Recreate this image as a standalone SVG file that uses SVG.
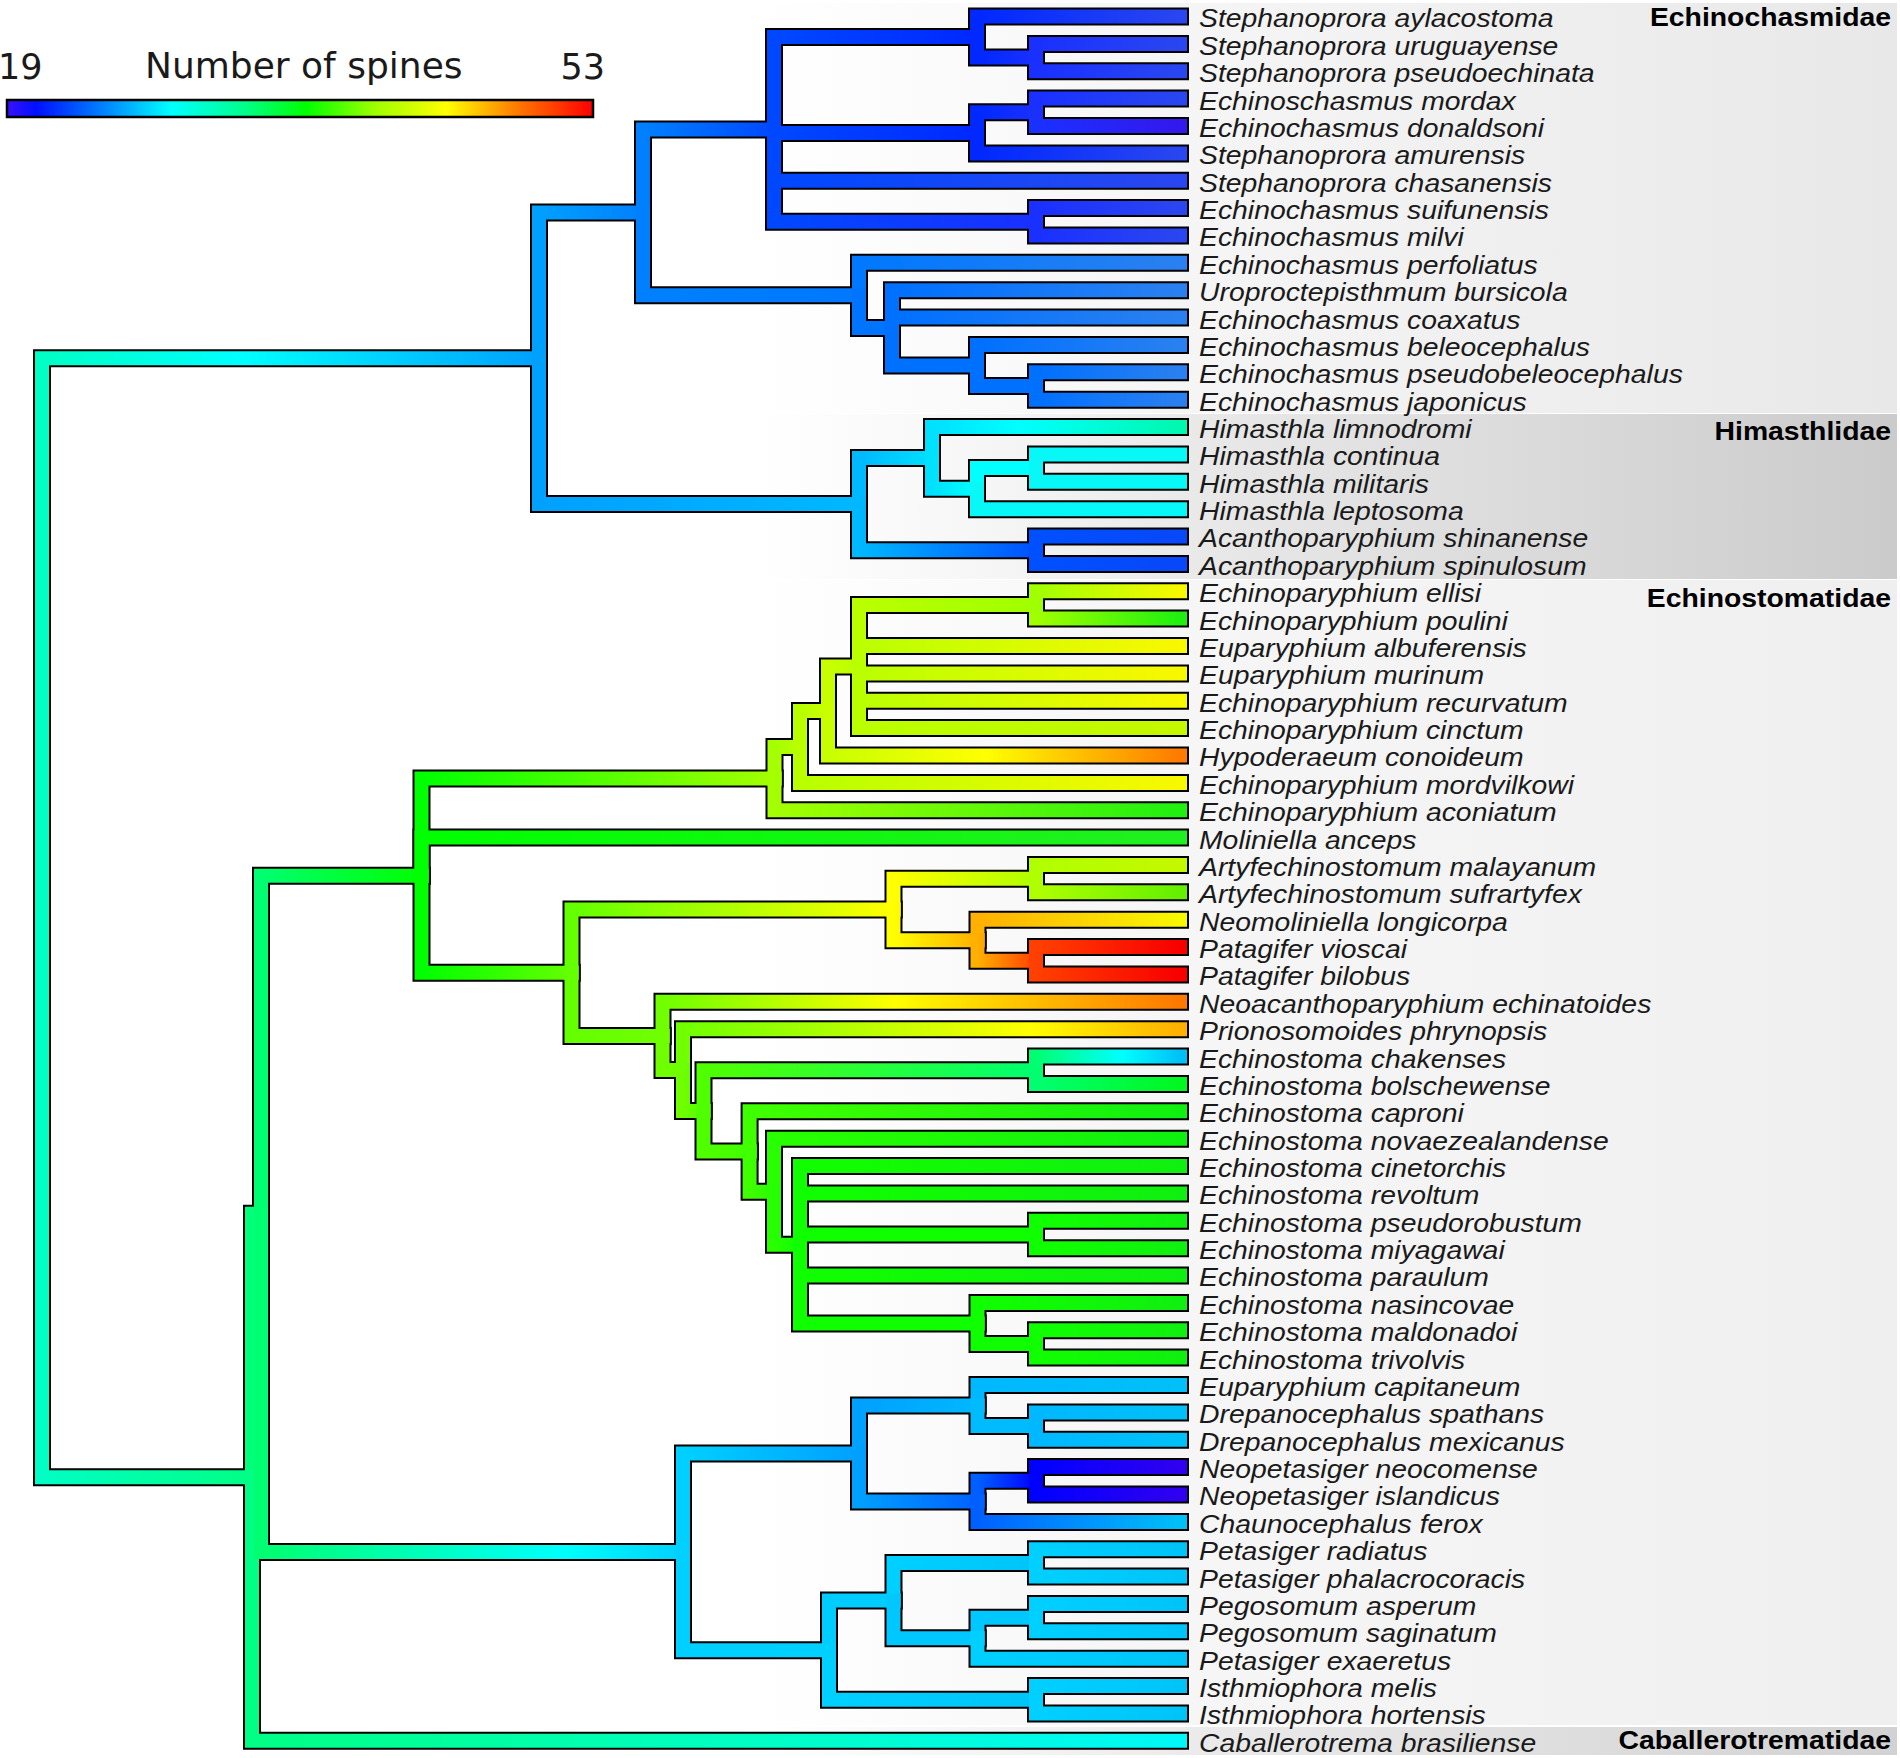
<svg xmlns="http://www.w3.org/2000/svg" width="1900" height="1758" viewBox="0 0 1900 1758">
<style>
.sp{font-family:"Liberation Sans",Arial,sans-serif;font-style:italic;font-size:26.5px;fill:#1a1a1a}
.fam{font-family:"Liberation Sans",Arial,sans-serif;font-weight:bold;font-size:26.5px;fill:#000;text-anchor:end}
.lg{font-family:"DejaVu Sans",Verdana,sans-serif;font-size:35px;fill:#1a1a1a}
</style>
<defs>
<linearGradient id="bg1" gradientUnits="userSpaceOnUse" x1="760" y1="0" x2="1897" y2="0"><stop offset="0" stop-color="#fff"/><stop offset=".35" stop-color="#f6f6f6"/><stop offset="1" stop-color="#e8e8e8"/></linearGradient>
<linearGradient id="bg2" gradientUnits="userSpaceOnUse" x1="760" y1="0" x2="1897" y2="0"><stop offset="0" stop-color="#fff"/><stop offset=".2" stop-color="#f6f6f6"/><stop offset=".4" stop-color="#e8e8e8"/><stop offset="1" stop-color="#cbcbcb"/></linearGradient>
<linearGradient id="bg3" gradientUnits="userSpaceOnUse" x1="760" y1="0" x2="1897" y2="0"><stop offset="0" stop-color="#fff"/><stop offset=".3" stop-color="#f7f7f7"/><stop offset="1" stop-color="#efefef"/></linearGradient>
<linearGradient id="bg4" gradientUnits="userSpaceOnUse" x1="760" y1="0" x2="1897" y2="0"><stop offset="0" stop-color="#fff"/><stop offset=".4" stop-color="#eaeaea"/><stop offset="1" stop-color="#d2d2d2"/></linearGradient>
<linearGradient id="leg"><stop offset="0" stop-color="#3a10ff"/><stop offset=".05" stop-color="#0010ff"/><stop offset=".17" stop-color="#0088ff"/><stop offset=".28" stop-color="#00ffff"/><stop offset=".4" stop-color="#00ff90"/><stop offset=".51" stop-color="#00ff00"/><stop offset=".63" stop-color="#a0ff00"/><stop offset=".75" stop-color="#ffff00"/><stop offset=".88" stop-color="#ff7000"/><stop offset="1" stop-color="#ff0000"/></linearGradient>
<linearGradient id="gRU"><stop offset="0" stop-color="#00ffc4"/><stop offset=".4" stop-color="#00ffff"/><stop offset="1" stop-color="#00a0ff"/></linearGradient>
<linearGradient id="gRL"><stop offset="0" stop-color="#00ffc4"/><stop offset="1" stop-color="#00ff84"/></linearGradient>
<linearGradient id="gUA"><stop offset="0" stop-color="#00a0ff"/><stop offset="1" stop-color="#0080ff"/></linearGradient>
<linearGradient id="gUH"><stop offset="0" stop-color="#00a0ff"/><stop offset="1" stop-color="#00b8ff"/></linearGradient>
<linearGradient id="gAC"><stop offset="0" stop-color="#0080ff"/><stop offset="1" stop-color="#0048ff"/></linearGradient>
<linearGradient id="gAG"><stop offset="0" stop-color="#0080ff"/><stop offset="1" stop-color="#0078ff"/></linearGradient>
<linearGradient id="gCB"><stop offset="0" stop-color="#0048ff"/><stop offset="1" stop-color="#0028ff"/></linearGradient>
<linearGradient id="gCT"><stop offset="0" stop-color="#0048ff"/><stop offset="1" stop-color="#2a46f0"/></linearGradient>
<linearGradient id="gCC"><stop offset="0" stop-color="#0048ff"/><stop offset="1" stop-color="#1a30ff"/></linearGradient>
<linearGradient id="gBT"><stop offset="0" stop-color="#0028ff"/><stop offset="1" stop-color="#2a46f0"/></linearGradient>
<linearGradient id="gBC"><stop offset="0" stop-color="#0028ff"/><stop offset="1" stop-color="#1a30ff"/></linearGradient>
<linearGradient id="gKT"><stop offset="0" stop-color="#1a30ff"/><stop offset="1" stop-color="#2a46f0"/></linearGradient>
<linearGradient id="gT5"><stop offset="0" stop-color="#1a30ff"/><stop offset="1" stop-color="#3418ee"/></linearGradient>
<linearGradient id="gGT"><stop offset="0" stop-color="#0078ff"/><stop offset="1" stop-color="#2a80f0"/></linearGradient>
<linearGradient id="gFT"><stop offset="0" stop-color="#0070ff"/><stop offset="1" stop-color="#2a80f0"/></linearGradient>
<linearGradient id="gHH"><stop offset="0" stop-color="#00b8ff"/><stop offset="1" stop-color="#00e0ff"/></linearGradient>
<linearGradient id="gHC"><stop offset="0" stop-color="#00b8ff"/><stop offset="1" stop-color="#0050ff"/></linearGradient>
<linearGradient id="gH16"><stop offset="0" stop-color="#00e0ff"/><stop offset=".35" stop-color="#00ffff"/><stop offset="1" stop-color="#00f8b0"/></linearGradient>
<linearGradient id="gH23"><stop offset="0" stop-color="#00e0ff"/><stop offset="1" stop-color="#00ffff"/></linearGradient>
<linearGradient id="gAT"><stop offset="0" stop-color="#0050ff"/><stop offset="1" stop-color="#0848f8"/></linearGradient>
<linearGradient id="gL64"><stop offset="0" stop-color="#00ff84"/><stop offset=".5" stop-color="#00ffc0"/><stop offset="1" stop-color="#00f8f8"/></linearGradient>
<linearGradient id="gMN"><stop offset="0" stop-color="#00ff70"/><stop offset="1" stop-color="#00ff00"/></linearGradient>
<linearGradient id="gMP"><stop offset="0" stop-color="#00ff70"/><stop offset=".72" stop-color="#00ffff"/><stop offset="1" stop-color="#00d0ff"/></linearGradient>
<linearGradient id="gNQ"><stop offset="0" stop-color="#00ff00"/><stop offset="1" stop-color="#a4ff00"/></linearGradient>
<linearGradient id="gN31"><stop offset="0" stop-color="#00ff00"/><stop offset="1" stop-color="#20f020"/></linearGradient>
<linearGradient id="gNR"><stop offset="0" stop-color="#00ff00"/><stop offset="1" stop-color="#64ff00"/></linearGradient>
<linearGradient id="gQ43"><stop offset="0" stop-color="#a4ff00"/><stop offset="1" stop-color="#b8ff00"/></linearGradient>
<linearGradient id="gQ30"><stop offset="0" stop-color="#a4ff00"/><stop offset="1" stop-color="#20f010"/></linearGradient>
<linearGradient id="gQ32"><stop offset="0" stop-color="#b8ff00"/><stop offset="1" stop-color="#c8ff00"/></linearGradient>
<linearGradient id="gQ29"><stop offset="0" stop-color="#b8ff00"/><stop offset="1" stop-color="#f8f800"/></linearGradient>
<linearGradient id="gQ21"><stop offset="0" stop-color="#c8ff00"/><stop offset="1" stop-color="#baff00"/></linearGradient>
<linearGradient id="gQ28"><stop offset="0" stop-color="#c8ff00"/><stop offset=".45" stop-color="#ffff00"/><stop offset="1" stop-color="#ff7a00"/></linearGradient>
<linearGradient id="gQ1C"><stop offset="0" stop-color="#baff00"/><stop offset="1" stop-color="#a0ff00"/></linearGradient>
<linearGradient id="gQ1Y"><stop offset="0" stop-color="#baff00"/><stop offset="1" stop-color="#f8f800"/></linearGradient>
<linearGradient id="gQ27"><stop offset="0" stop-color="#baff00"/><stop offset="1" stop-color="#c4f800"/></linearGradient>
<linearGradient id="gC22"><stop offset="0" stop-color="#a0ff00"/><stop offset="1" stop-color="#f8f800"/></linearGradient>
<linearGradient id="gC23"><stop offset="0" stop-color="#a0ff00"/><stop offset="1" stop-color="#20f010"/></linearGradient>
<linearGradient id="gRS"><stop offset="0" stop-color="#64ff00"/><stop offset="1" stop-color="#ffff00"/></linearGradient>
<linearGradient id="gRT"><stop offset="0" stop-color="#64ff00"/><stop offset="1" stop-color="#70ff00"/></linearGradient>
<linearGradient id="gSC"><stop offset="0" stop-color="#ffff00"/><stop offset="1" stop-color="#b0ff00"/></linearGradient>
<linearGradient id="gSS"><stop offset="0" stop-color="#ffff00"/><stop offset="1" stop-color="#ffb000"/></linearGradient>
<linearGradient id="gC32"><stop offset="0" stop-color="#b0ff00"/><stop offset="1" stop-color="#c4f800"/></linearGradient>
<linearGradient id="gC33"><stop offset="0" stop-color="#b0ff00"/><stop offset="1" stop-color="#64f000"/></linearGradient>
<linearGradient id="gS34"><stop offset="0" stop-color="#ffb000"/><stop offset="1" stop-color="#f8f800"/></linearGradient>
<linearGradient id="gS2C"><stop offset="0" stop-color="#ffb000"/><stop offset="1" stop-color="#ff4000"/></linearGradient>
<linearGradient id="gC35"><stop offset="0" stop-color="#ff4000"/><stop offset="1" stop-color="#f80000"/></linearGradient>
<linearGradient id="gT37"><stop offset="0" stop-color="#70ff00"/><stop offset=".45" stop-color="#ffff00"/><stop offset="1" stop-color="#ff7800"/></linearGradient>
<linearGradient id="gT38"><stop offset="0" stop-color="#70ff00"/><stop offset=".7" stop-color="#ffff00"/><stop offset="1" stop-color="#ffb000"/></linearGradient>
<linearGradient id="gT23"><stop offset="0" stop-color="#70ff00"/><stop offset="1" stop-color="#50ff00"/></linearGradient>
<linearGradient id="gT3C"><stop offset="0" stop-color="#50ff00"/><stop offset="1" stop-color="#00ff70"/></linearGradient>
<linearGradient id="gT34"><stop offset="0" stop-color="#50ff00"/><stop offset="1" stop-color="#40ff00"/></linearGradient>
<linearGradient id="gC39"><stop offset="0" stop-color="#00ff70"/><stop offset=".6" stop-color="#00ffff"/><stop offset="1" stop-color="#00c0f8"/></linearGradient>
<linearGradient id="gC40"><stop offset="0" stop-color="#00ff70"/><stop offset="1" stop-color="#00f820"/></linearGradient>
<linearGradient id="gT41"><stop offset="0" stop-color="#40ff00"/><stop offset="1" stop-color="#10f010"/></linearGradient>
<linearGradient id="gT45"><stop offset="0" stop-color="#40ff00"/><stop offset="1" stop-color="#28ff00"/></linearGradient>
<linearGradient id="gT42"><stop offset="0" stop-color="#28ff00"/><stop offset="1" stop-color="#10f010"/></linearGradient>
<linearGradient id="gT56"><stop offset="0" stop-color="#28ff00"/><stop offset="1" stop-color="#10ff00"/></linearGradient>
<linearGradient id="gGr"><stop offset="0" stop-color="#10ff00"/><stop offset="1" stop-color="#10f010"/></linearGradient>
<linearGradient id="gPP1"><stop offset="0" stop-color="#00d0ff"/><stop offset="1" stop-color="#00a0ff"/></linearGradient>
<linearGradient id="gP1a"><stop offset="0" stop-color="#00a0ff"/><stop offset="1" stop-color="#00b8ff"/></linearGradient>
<linearGradient id="gP1b"><stop offset="0" stop-color="#00a0ff"/><stop offset="1" stop-color="#0060ff"/></linearGradient>
<linearGradient id="gLB"><stop offset="0" stop-color="#00b8ff"/><stop offset="1" stop-color="#00c0f8"/></linearGradient>
<linearGradient id="gP1bC"><stop offset="0" stop-color="#0060ff"/><stop offset="1" stop-color="#0000ff"/></linearGradient>
<linearGradient id="gP56"><stop offset="0" stop-color="#0060ff"/><stop offset="1" stop-color="#00c0f8"/></linearGradient>
<linearGradient id="gC54"><stop offset="0" stop-color="#0000ff"/><stop offset="1" stop-color="#3000f0"/></linearGradient>
<linearGradient id="gP2"><stop offset="0" stop-color="#00d0ff"/><stop offset="1" stop-color="#00c4f8"/></linearGradient>
</defs>

<g id="family-bands">
<rect x="760" y="3" width="1137" height="410" fill="url(#bg1)"/>
<rect x="760" y="414" width="1137" height="165" fill="url(#bg2)"/>
<rect x="760" y="580" width="1137" height="1145" fill="url(#bg3)"/>
<rect x="760" y="1727" width="1137" height="28" fill="url(#bg4)"/>
</g>

<g id="legend">
<rect x="7" y="100" width="586" height="17" fill="url(#leg)" stroke="#000" stroke-width="2.5"/>
<text class="lg" x="-2" y="79">19</text>
<text class="lg" x="145" y="78" style="font-size:36px">Number of spines</text>
<text class="lg" x="605" y="79" text-anchor="end">53</text>
</g>

<g id="connectors" fill="none" stroke-linecap="square" stroke-linejoin="miter">
<g id="outline" stroke="#000" stroke-width="18">
<path id="r_u0" d="M42 917.8V358.3H539"/>
<path id="r_l" d="M42 917.8V1477.3H252"/>
<path id="u0_a" d="M539 358.3V212.4H643"/>
<path id="u0_h1" d="M539 358.3V504.1H859"/>
<path id="a_c" d="M643 212.4V129.4H774"/>
<path id="a_g" d="M643 212.4V295.3H859"/>
<path id="c_b" d="M774 129.4V37H977"/>
<path id="c_d" d="M774 129.4V132.9H977"/>
<path id="c_t7" d="M774 129.4V180.7H1180"/>
<path id="c_c89" d="M774 129.4V221.8H1036"/>
<path id="b_t1" d="M977 37V16.5H1180"/>
<path id="b_c23" d="M977 37V57.6H1036"/>
<path id="c23_t2" d="M1036 57.6V43.9H1180"/>
<path id="c23_t3" d="M1036 57.6V71.2H1180"/>
<path id="d_c45" d="M977 132.9V112.3H1036"/>
<path id="d_t6" d="M977 132.9V153.4H1180"/>
<path id="c45_t4" d="M1036 112.3V98.6H1180"/>
<path id="c45_t5" d="M1036 112.3V126H1180"/>
<path id="c89_t8" d="M1036 221.8V208.1H1180"/>
<path id="c89_t9" d="M1036 221.8V235.5H1180"/>
<path id="g_t10" d="M859 295.3V262.8H1180"/>
<path id="g_f" d="M859 295.3V327.9H892"/>
<path id="f_t11" d="M892 327.9V290.2H1180"/>
<path id="f_t12" d="M892 327.9V317.6H1180"/>
<path id="f_e" d="M892 327.9V365.5H977"/>
<path id="e_t13" d="M977 365.5V344.9H1180"/>
<path id="e_c1415" d="M977 365.5V386H1036"/>
<path id="c1415_t14" d="M1036 386V372.3H1180"/>
<path id="c1415_t15" d="M1036 386V399.7H1180"/>
<path id="h1_h2" d="M859 504.1V457.9H932"/>
<path id="h1_c2021" d="M859 504.1V550.2H1036"/>
<path id="h2_t16" d="M932 457.9V427.1H1180"/>
<path id="h2_h3" d="M932 457.9V488.7H977"/>
<path id="h3_c1718" d="M977 488.7V468.1H1036"/>
<path id="h3_t19" d="M977 488.7V509.2H1180"/>
<path id="c1718_t17" d="M1036 468.1V454.4H1180"/>
<path id="c1718_t18" d="M1036 468.1V481.8H1180"/>
<path id="c2021_t20" d="M1036 550.2V536.5H1180"/>
<path id="c2021_t21" d="M1036 550.2V563.9H1180"/>
<path id="l_m" d="M252 1477.3V1213.8H261"/>
<path id="l_t64" d="M252 1477.3V1740.8H1180"/>
<path id="m_n" d="M261 1213.8V875.7H421.5"/>
<path id="m_p" d="M261 1213.8V1551.9H683"/>
<path id="n_q4" d="M421.5 875.7V778.6H774.5"/>
<path id="n_t31" d="M421.5 875.7V837.6H1180"/>
<path id="n_r" d="M421.5 875.7V972.8H571.5"/>
<path id="q4_q3" d="M774.5 778.6V747H800"/>
<path id="q4_t30" d="M774.5 778.6V810.2H1180"/>
<path id="q3_q2" d="M800 747V711.1H828"/>
<path id="q3_t29" d="M800 747V782.9H1180"/>
<path id="q2_q1" d="M828 711.1V666.6H859"/>
<path id="q2_t28" d="M828 711.1V755.5H1180"/>
<path id="q1_c2223" d="M859 666.6V605H1036"/>
<path id="q1_t24" d="M859 666.6V646H1180"/>
<path id="q1_t25" d="M859 666.6V673.4H1180"/>
<path id="q1_t26" d="M859 666.6V700.8H1180"/>
<path id="q1_t27" d="M859 666.6V728.1H1180"/>
<path id="c2223_t22" d="M1036 605V591.3H1180"/>
<path id="c2223_t23" d="M1036 605V618.6H1180"/>
<path id="r_s" d="M571.5 972.8V909.5H893.5"/>
<path id="r_t" d="M571.5 972.8V1036H662.5"/>
<path id="s_c3233" d="M893.5 909.5V878.7H1036"/>
<path id="s_s2" d="M893.5 909.5V940.3H977.5"/>
<path id="c3233_t32" d="M1036 878.7V865H1180"/>
<path id="c3233_t33" d="M1036 878.7V892.3H1180"/>
<path id="s2_t34" d="M977.5 940.3V919.7H1180"/>
<path id="s2_c3536" d="M977.5 940.3V960.8H1036"/>
<path id="c3536_t35" d="M1036 960.8V947.1H1180"/>
<path id="c3536_t36" d="M1036 960.8V974.5H1180"/>
<path id="t_t37" d="M662.5 1036V1001.8H1180"/>
<path id="t_t2" d="M662.5 1036V1070.1H683"/>
<path id="t2_t38" d="M683 1070.1V1029.2H1180"/>
<path id="t2_t3" d="M683 1070.1V1111H703.5"/>
<path id="t3_c3940" d="M703.5 1111V1070.3H1036"/>
<path id="t3_t4" d="M703.5 1111V1151.6H749.6"/>
<path id="c3940_t39" d="M1036 1070.3V1056.6H1180"/>
<path id="c3940_t40" d="M1036 1070.3V1083.9H1180"/>
<path id="t4_t41" d="M749.6 1151.6V1111.3H1180"/>
<path id="t4_t5" d="M749.6 1151.6V1191.8H774"/>
<path id="t5_t42" d="M774 1191.8V1138.7H1180"/>
<path id="t5_t6" d="M774 1191.8V1244.8H800"/>
<path id="t6_t43" d="M800 1244.8V1166H1180"/>
<path id="t6_t44" d="M800 1244.8V1193.4H1180"/>
<path id="t6_c4546" d="M800 1244.8V1234.5H1036"/>
<path id="t6_t47" d="M800 1244.8V1275.5H1180"/>
<path id="t6_u" d="M800 1244.8V1323.5H977.5"/>
<path id="c4546_t45" d="M1036 1234.5V1220.8H1180"/>
<path id="c4546_t46" d="M1036 1234.5V1248.2H1180"/>
<path id="u_t48" d="M977.5 1323.5V1302.9H1180"/>
<path id="u_c4950" d="M977.5 1323.5V1344H1036"/>
<path id="c4950_t49" d="M1036 1344V1330.3H1180"/>
<path id="c4950_t50" d="M1036 1344V1357.6H1180"/>
<path id="p_p1" d="M683 1551.9V1453.5H859"/>
<path id="p_p2" d="M683 1551.9V1650.2H829"/>
<path id="p1_p1a" d="M859 1453.5V1405.6H977.5"/>
<path id="p1_p1b" d="M859 1453.5V1501.4H977.5"/>
<path id="p1a_t51" d="M977.5 1405.6V1385H1180"/>
<path id="p1a_c5253" d="M977.5 1405.6V1426.1H1036"/>
<path id="c5253_t52" d="M1036 1426.1V1412.4H1180"/>
<path id="c5253_t53" d="M1036 1426.1V1439.7H1180"/>
<path id="p1b_c5455" d="M977.5 1501.4V1480.8H1036"/>
<path id="p1b_t56" d="M977.5 1501.4V1521.9H1180"/>
<path id="c5455_t54" d="M1036 1480.8V1467.1H1180"/>
<path id="c5455_t55" d="M1036 1480.8V1494.5H1180"/>
<path id="p2_p2a" d="M829 1650.2V1600.6H893.5"/>
<path id="p2_c6263" d="M829 1650.2V1699.8H1036"/>
<path id="p2a_c5758" d="M893.5 1600.6V1562.9H1036"/>
<path id="p2a_p2b" d="M893.5 1600.6V1638.2H977.5"/>
<path id="c5758_t57" d="M1036 1562.9V1549.2H1180"/>
<path id="c5758_t58" d="M1036 1562.9V1576.6H1180"/>
<path id="p2b_c5960" d="M977.5 1638.2V1617.7H1036"/>
<path id="p2b_t61" d="M977.5 1638.2V1658.7H1180"/>
<path id="c5960_t59" d="M1036 1617.7V1604H1180"/>
<path id="c5960_t60" d="M1036 1617.7V1631.3H1180"/>
<path id="c6263_t62" d="M1036 1699.8V1686.1H1180"/>
<path id="c6263_t63" d="M1036 1699.8V1713.4H1180"/>
</g>
<g id="colour" stroke-width="14">
<use href="#r_u0" stroke="url(#gRU)"/>
<use href="#r_l" stroke="url(#gRL)"/>
<use href="#u0_a" stroke="url(#gUA)"/>
<use href="#u0_h1" stroke="url(#gUH)"/>
<use href="#a_c" stroke="url(#gAC)"/>
<use href="#a_g" stroke="url(#gAG)"/>
<use href="#c_b" stroke="url(#gCB)"/>
<use href="#c_d" stroke="url(#gCB)"/>
<use href="#c_t7" stroke="url(#gCT)"/>
<use href="#c_c89" stroke="url(#gCC)"/>
<use href="#b_t1" stroke="url(#gBT)"/>
<use href="#b_c23" stroke="url(#gBC)"/>
<use href="#c23_t2" stroke="url(#gKT)"/>
<use href="#c23_t3" stroke="url(#gKT)"/>
<use href="#d_c45" stroke="url(#gBC)"/>
<use href="#d_t6" stroke="url(#gBT)"/>
<use href="#c45_t4" stroke="url(#gKT)"/>
<use href="#c45_t5" stroke="url(#gT5)"/>
<use href="#c89_t8" stroke="url(#gKT)"/>
<use href="#c89_t9" stroke="url(#gKT)"/>
<use href="#g_t10" stroke="url(#gGT)"/>
<use href="#g_f" stroke="#0074ff"/>
<use href="#f_t11" stroke="url(#gFT)"/>
<use href="#f_t12" stroke="url(#gFT)"/>
<use href="#f_e" stroke="#0070ff"/>
<use href="#e_t13" stroke="url(#gFT)"/>
<use href="#e_c1415" stroke="#0070ff"/>
<use href="#c1415_t14" stroke="url(#gFT)"/>
<use href="#c1415_t15" stroke="url(#gFT)"/>
<use href="#h1_h2" stroke="url(#gHH)"/>
<use href="#h1_c2021" stroke="url(#gHC)"/>
<use href="#h2_t16" stroke="url(#gH16)"/>
<use href="#h2_h3" stroke="url(#gH23)"/>
<use href="#h3_c1718" stroke="#00ffff"/>
<use href="#h3_t19" stroke="#08f8f8"/>
<use href="#c1718_t17" stroke="#08f8f8"/>
<use href="#c1718_t18" stroke="#08f8f8"/>
<use href="#c2021_t20" stroke="url(#gAT)"/>
<use href="#c2021_t21" stroke="url(#gAT)"/>
<use href="#l_m" stroke="#00ff7a"/>
<use href="#l_t64" stroke="url(#gL64)"/>
<use href="#m_n" stroke="url(#gMN)"/>
<use href="#m_p" stroke="url(#gMP)"/>
<use href="#n_q4" stroke="url(#gNQ)"/>
<use href="#n_t31" stroke="url(#gN31)"/>
<use href="#n_r" stroke="url(#gNR)"/>
<use href="#q4_q3" stroke="url(#gQ43)"/>
<use href="#q4_t30" stroke="url(#gQ30)"/>
<use href="#q3_q2" stroke="url(#gQ32)"/>
<use href="#q3_t29" stroke="url(#gQ29)"/>
<use href="#q2_q1" stroke="url(#gQ21)"/>
<use href="#q2_t28" stroke="url(#gQ28)"/>
<use href="#q1_c2223" stroke="url(#gQ1C)"/>
<use href="#q1_t24" stroke="url(#gQ1Y)"/>
<use href="#q1_t25" stroke="url(#gQ1Y)"/>
<use href="#q1_t26" stroke="url(#gQ1Y)"/>
<use href="#q1_t27" stroke="url(#gQ27)"/>
<use href="#c2223_t22" stroke="url(#gC22)"/>
<use href="#c2223_t23" stroke="url(#gC23)"/>
<use href="#r_s" stroke="url(#gRS)"/>
<use href="#r_t" stroke="url(#gRT)"/>
<use href="#s_c3233" stroke="url(#gSC)"/>
<use href="#s_s2" stroke="url(#gSS)"/>
<use href="#c3233_t32" stroke="url(#gC32)"/>
<use href="#c3233_t33" stroke="url(#gC33)"/>
<use href="#s2_t34" stroke="url(#gS34)"/>
<use href="#s2_c3536" stroke="url(#gS2C)"/>
<use href="#c3536_t35" stroke="url(#gC35)"/>
<use href="#c3536_t36" stroke="url(#gC35)"/>
<use href="#t_t37" stroke="url(#gT37)"/>
<use href="#t_t2" stroke="#70ff00"/>
<use href="#t2_t38" stroke="url(#gT38)"/>
<use href="#t2_t3" stroke="url(#gT23)"/>
<use href="#t3_c3940" stroke="url(#gT3C)"/>
<use href="#t3_t4" stroke="url(#gT34)"/>
<use href="#c3940_t39" stroke="url(#gC39)"/>
<use href="#c3940_t40" stroke="url(#gC40)"/>
<use href="#t4_t41" stroke="url(#gT41)"/>
<use href="#t4_t5" stroke="url(#gT45)"/>
<use href="#t5_t42" stroke="url(#gT42)"/>
<use href="#t5_t6" stroke="url(#gT56)"/>
<use href="#t6_t43" stroke="url(#gGr)"/>
<use href="#t6_t44" stroke="url(#gGr)"/>
<use href="#t6_c4546" stroke="#10ff00"/>
<use href="#t6_t47" stroke="url(#gGr)"/>
<use href="#t6_u" stroke="#10ff00"/>
<use href="#c4546_t45" stroke="url(#gGr)"/>
<use href="#c4546_t46" stroke="url(#gGr)"/>
<use href="#u_t48" stroke="url(#gGr)"/>
<use href="#u_c4950" stroke="#10ff00"/>
<use href="#c4950_t49" stroke="url(#gGr)"/>
<use href="#c4950_t50" stroke="url(#gGr)"/>
<use href="#p_p1" stroke="url(#gPP1)"/>
<use href="#p_p2" stroke="#00d0ff"/>
<use href="#p1_p1a" stroke="url(#gP1a)"/>
<use href="#p1_p1b" stroke="url(#gP1b)"/>
<use href="#p1a_t51" stroke="url(#gLB)"/>
<use href="#p1a_c5253" stroke="#00bcff"/>
<use href="#c5253_t52" stroke="url(#gLB)"/>
<use href="#c5253_t53" stroke="url(#gLB)"/>
<use href="#p1b_c5455" stroke="url(#gP1bC)"/>
<use href="#p1b_t56" stroke="url(#gP56)"/>
<use href="#c5455_t54" stroke="url(#gC54)"/>
<use href="#c5455_t55" stroke="url(#gC54)"/>
<use href="#p2_p2a" stroke="#00ccff"/>
<use href="#p2_c6263" stroke="url(#gP2)"/>
<use href="#p2a_c5758" stroke="url(#gP2)"/>
<use href="#p2a_p2b" stroke="#00c8ff"/>
<use href="#c5758_t57" stroke="url(#gP2)"/>
<use href="#c5758_t58" stroke="url(#gP2)"/>
<use href="#p2b_c5960" stroke="#00c8ff"/>
<use href="#p2b_t61" stroke="url(#gP2)"/>
<use href="#c5960_t59" stroke="url(#gP2)"/>
<use href="#c5960_t60" stroke="url(#gP2)"/>
<use href="#c6263_t62" stroke="url(#gP2)"/>
<use href="#c6263_t63" stroke="url(#gP2)"/>
</g>
</g>

<g id="tips" class="sp" transform="translate(1199 2) scale(1.07 1)">
<g id="n01"><text x="0" y="25.5">Stephanoprora aylacostoma</text></g>
<g id="n02"><text x="0" y="52.9">Stephanoprora uruguayense</text></g>
<g id="n03"><text x="0" y="80.2">Stephanoprora pseudoechinata</text></g>
<g id="n04"><text x="0" y="107.6">Echinoschasmus mordax</text></g>
<g id="n05"><text x="0" y="135">Echinochasmus donaldsoni</text></g>
<g id="n06"><text x="0" y="162.4">Stephanoprora amurensis</text></g>
<g id="n07"><text x="0" y="189.7">Stephanoprora chasanensis</text></g>
<g id="n08"><text x="0" y="217.1">Echinochasmus suifunensis</text></g>
<g id="n09"><text x="0" y="244.5">Echinochasmus milvi</text></g>
<g id="n10"><text x="0" y="271.8">Echinochasmus perfoliatus</text></g>
<g id="n11"><text x="0" y="299.2">Uroproctepisthmum bursicola</text></g>
<g id="n12"><text x="0" y="326.6">Echinochasmus coaxatus</text></g>
<g id="n13"><text x="0" y="353.9">Echinochasmus beleocephalus</text></g>
<g id="n14"><text x="0" y="381.3">Echinochasmus pseudobeleocephalus</text></g>
<g id="n15"><text x="0" y="408.7">Echinochasmus japonicus</text></g>
<g id="n16"><text x="0" y="436.1">Himasthla limnodromi</text></g>
<g id="n17"><text x="0" y="463.4">Himasthla continua</text></g>
<g id="n18"><text x="0" y="490.8">Himasthla militaris</text></g>
<g id="n19"><text x="0" y="518.2">Himasthla leptosoma</text></g>
<g id="n20"><text x="0" y="545.5">Acanthoparyphium shinanense</text></g>
<g id="n21"><text x="0" y="572.9">Acanthoparyphium spinulosum</text></g>
<g id="n22"><text x="0" y="600.3">Echinoparyphium ellisi</text></g>
<g id="n23"><text x="0" y="627.6">Echinoparyphium poulini</text></g>
<g id="n24"><text x="0" y="655">Euparyphium albuferensis</text></g>
<g id="n25"><text x="0" y="682.4">Euparyphium murinum</text></g>
<g id="n26"><text x="0" y="709.8">Echinoparyphium recurvatum</text></g>
<g id="n27"><text x="0" y="737.1">Echinoparyphium cinctum</text></g>
<g id="n28"><text x="0" y="764.5">Hypoderaeum conoideum</text></g>
<g id="n29"><text x="0" y="791.9">Echinoparyphium mordvilkowi</text></g>
<g id="n30"><text x="0" y="819.2">Echinoparyphium aconiatum</text></g>
<g id="n31"><text x="0" y="846.6">Moliniella anceps</text></g>
<g id="n32"><text x="0" y="874">Artyfechinostomum malayanum</text></g>
<g id="n33"><text x="0" y="901.3">Artyfechinostomum sufrartyfex</text></g>
<g id="n34"><text x="0" y="928.7">Neomoliniella longicorpa</text></g>
<g id="n35"><text x="0" y="956.1">Patagifer vioscai</text></g>
<g id="n36"><text x="0" y="983.5">Patagifer bilobus</text></g>
<g id="n37"><text x="0" y="1010.8">Neoacanthoparyphium echinatoides</text></g>
<g id="n38"><text x="0" y="1038.2">Prionosomoides phrynopsis</text></g>
<g id="n39"><text x="0" y="1065.6">Echinostoma chakenses</text></g>
<g id="n40"><text x="0" y="1092.9">Echinostoma bolschewense</text></g>
<g id="n41"><text x="0" y="1120.3">Echinostoma caproni</text></g>
<g id="n42"><text x="0" y="1147.7">Echinostoma novaezealandense</text></g>
<g id="n43"><text x="0" y="1175">Echinostoma cinetorchis</text></g>
<g id="n44"><text x="0" y="1202.4">Echinostoma revoltum</text></g>
<g id="n45"><text x="0" y="1229.8">Echinostoma pseudorobustum</text></g>
<g id="n46"><text x="0" y="1257.2">Echinostoma miyagawai</text></g>
<g id="n47"><text x="0" y="1284.5">Echinostoma paraulum</text></g>
<g id="n48"><text x="0" y="1311.9">Echinostoma nasincovae</text></g>
<g id="n49"><text x="0" y="1339.3">Echinostoma maldonadoi</text></g>
<g id="n50"><text x="0" y="1366.6">Echinostoma trivolvis</text></g>
<g id="n51"><text x="0" y="1394">Euparyphium capitaneum</text></g>
<g id="n52"><text x="0" y="1421.4">Drepanocephalus spathans</text></g>
<g id="n53"><text x="0" y="1448.7">Drepanocephalus mexicanus</text></g>
<g id="n54"><text x="0" y="1476.1">Neopetasiger neocomense</text></g>
<g id="n55"><text x="0" y="1503.5">Neopetasiger islandicus</text></g>
<g id="n56"><text x="0" y="1530.9">Chaunocephalus ferox</text></g>
<g id="n57"><text x="0" y="1558.2">Petasiger radiatus</text></g>
<g id="n58"><text x="0" y="1585.6">Petasiger phalacrocoracis</text></g>
<g id="n59"><text x="0" y="1613">Pegosomum asperum</text></g>
<g id="n60"><text x="0" y="1640.3">Pegosomum saginatum</text></g>
<g id="n61"><text x="0" y="1667.7">Petasiger exaeretus</text></g>
<g id="n62"><text x="0" y="1695.1">Isthmiophora melis</text></g>
<g id="n63"><text x="0" y="1722.4">Isthmiophora hortensis</text></g>
<g id="n64"><text x="0" y="1749.8">Caballerotrema brasiliense</text></g>
</g>

<g id="families" class="fam" transform="translate(1891 1.5) scale(1.07 1)">
<g id="fam-echinochasmidae"><text x="0" y="25">Echinochasmidae</text></g>
<g id="fam-himasthlidae"><text x="0" y="439">Himasthlidae</text></g>
<g id="fam-echinostomatidae"><text x="0" y="606">Echinostomatidae</text></g>
<g id="fam-caballerotrematidae"><text x="0" y="1748">Caballerotrematidae</text></g>
</g>
</svg>
